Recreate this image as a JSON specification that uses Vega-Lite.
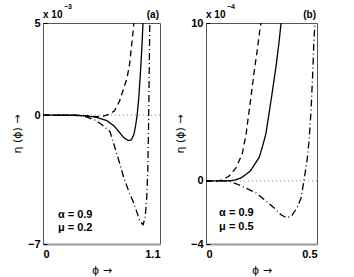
{
  "$schema": "https://vega.github.io/schema/vega-lite/v6.json",
  "padding": {"left": 10, "top": 2, "right": 0, "bottom": 0},
  "background": "white",
  "bounds": "flush",
  "spacing": 46,
  "config": {
    "view": {"stroke": "#555", "strokeWidth": 1},
    "font": "Liberation Sans",
    "axis": {
      "labelFont": "Liberation Sans", "labelFontWeight": "bold", "labelFontSize": 11, "labelColor": "black",
      "titleFont": "DejaVu Sans", "titleFontWeight": "normal", "titleFontSize": 11, "titleColor": "black",
      "domain": false, "grid": false, "tickColor": "black"
    },
    "axisX": {"domain": true, "domainColor": "#999", "domainWidth": 2, "titlePadding": 5, "ticks": false, "labelPadding": 4},
    "axisY": {"titlePadding": 5, "tickSize": -4, "labelPadding": 7},
    "text": {"font": "Liberation Sans", "fontWeight": "bold", "color": "black"}
  },
  "resolve": {"scale": {"x": "independent", "y": "independent", "strokeDash": "shared"}},
  "hconcat": [
    {
      "width": 117, "height": 221,
      "layer": [
        {
          "data": {"values": [{"z": 0}]},
          "mark": {"type": "rule", "color": "#888", "strokeDash": [1, 3], "strokeWidth": 1},
          "encoding": {"y": {"field": "z", "type": "quantitative", "scale": {"domain": [-7, 5]}}}
        },
        {
          "data": {"values": [
            {"s": "solid", "phi": 0, "eta": 0}, {"s": "solid", "phi": 0.3, "eta": -0.01}, {"s": "solid", "phi": 0.4, "eta": -0.04},
            {"s": "solid", "phi": 0.5, "eta": -0.12}, {"s": "solid", "phi": 0.6, "eta": -0.3}, {"s": "solid", "phi": 0.67, "eta": -0.6},
            {"s": "solid", "phi": 0.72, "eta": -0.95}, {"s": "solid", "phi": 0.76, "eta": -1.22}, {"s": "solid", "phi": 0.8, "eta": -1.38},
            {"s": "solid", "phi": 0.83, "eta": -1.35}, {"s": "solid", "phi": 0.855, "eta": -1.05}, {"s": "solid", "phi": 0.87, "eta": -0.6},
            {"s": "solid", "phi": 0.885, "eta": 0}, {"s": "solid", "phi": 0.9, "eta": 0.9}, {"s": "solid", "phi": 0.915, "eta": 2.2},
            {"s": "solid", "phi": 0.93, "eta": 3.7}, {"s": "solid", "phi": 0.94, "eta": 5}, {"s": "solid", "phi": 0.95, "eta": 6.5},
            {"s": "dashed", "phi": 0, "eta": 0}, {"s": "dashed", "phi": 0.3, "eta": -0.01}, {"s": "dashed", "phi": 0.4, "eta": -0.03},
            {"s": "dashed", "phi": 0.5, "eta": -0.08}, {"s": "dashed", "phi": 0.57, "eta": -0.06}, {"s": "dashed", "phi": 0.62, "eta": 0.05},
            {"s": "dashed", "phi": 0.67, "eta": 0.22}, {"s": "dashed", "phi": 0.72, "eta": 0.76}, {"s": "dashed", "phi": 0.76, "eta": 1.47},
            {"s": "dashed", "phi": 0.79, "eta": 2.0}, {"s": "dashed", "phi": 0.815, "eta": 2.8}, {"s": "dashed", "phi": 0.835, "eta": 3.9},
            {"s": "dashed", "phi": 0.855, "eta": 5.0}, {"s": "dashed", "phi": 0.865, "eta": 6.0},
            {"s": "dashdot", "phi": 0, "eta": 0}, {"s": "dashdot", "phi": 0.3, "eta": -0.02}, {"s": "dashdot", "phi": 0.4, "eta": -0.08},
            {"s": "dashdot", "phi": 0.5, "eta": -0.3}, {"s": "dashdot", "phi": 0.56, "eta": -0.55}, {"s": "dashdot", "phi": 0.63, "eta": -0.9},
            {"s": "dashdot", "phi": 0.667, "eta": -1.6}, {"s": "dashdot", "phi": 0.72, "eta": -2.6}, {"s": "dashdot", "phi": 0.76, "eta": -3.4},
            {"s": "dashdot", "phi": 0.81, "eta": -4.2}, {"s": "dashdot", "phi": 0.855, "eta": -4.8}, {"s": "dashdot", "phi": 0.91, "eta": -5.75},
            {"s": "dashdot", "phi": 0.94, "eta": -5.95}, {"s": "dashdot", "phi": 0.96, "eta": -5.6}, {"s": "dashdot", "phi": 0.975, "eta": -4.5},
            {"s": "dashdot", "phi": 0.985, "eta": -3.0}, {"s": "dashdot", "phi": 0.99, "eta": -1.5}, {"s": "dashdot", "phi": 0.995, "eta": 0.5},
            {"s": "dashdot", "phi": 1.0, "eta": 3.0}, {"s": "dashdot", "phi": 1.005, "eta": 5.5}
          ]},
          "mark": {"type": "line", "clip": true, "color": "black", "strokeWidth": 1.3},
          "encoding": {
            "x": {"field": "phi", "type": "quantitative", "scale": {"domain": [0, 1.1], "nice": false},
                  "axis": {"values": [0, 1.1], "format": ".1~f", "title": "\u03d5   \u2192"}},
            "y": {"field": "eta", "type": "quantitative", "scale": {"domain": [-7, 5], "nice": false},
                  "axis": {"values": [-7, 0, 5], "title": "\u03b7 (\u03d5)   \u2192"}},
            "strokeDash": {"field": "s", "type": "nominal", "legend": null,
                           "scale": {"domain": ["solid", "dashed", "dashdot"], "range": [[1, 0], [6, 4], [7, 3, 1, 3]]}}
          }
        },
        {
          "data": {"values": [{"x": 0.14, "y": -5.4, "t": "\u03b1 = 0.9"}, {"x": 0.14, "y": -6.15, "t": "\u03bc = 0.2"}]},
          "mark": {"type": "text", "align": "left", "baseline": "middle", "fontSize": 11},
          "encoding": {"x": {"field": "x", "type": "quantitative"}, "y": {"field": "y", "type": "quantitative"}, "text": {"field": "t"}}
        },
        {
          "data": {"values": [{"x": 0, "y": 5, "t": "x 10"}]},
          "mark": {"type": "text", "align": "left", "baseline": "alphabetic", "fontSize": 10, "dy": -5},
          "encoding": {"x": {"field": "x", "type": "quantitative"}, "y": {"field": "y", "type": "quantitative"}, "text": {"field": "t"}}
        },
        {
          "data": {"values": [{"x": 0, "y": 5, "t": "\u22123"}]},
          "mark": {"type": "text", "align": "left", "baseline": "alphabetic", "fontSize": 7, "dx": 21, "dy": -14},
          "encoding": {"x": {"field": "x", "type": "quantitative"}, "y": {"field": "y", "type": "quantitative"}, "text": {"field": "t"}}
        },
        {
          "data": {"values": [{"x": 1.1, "y": 5, "t": "(a)"}]},
          "mark": {"type": "text", "align": "right", "baseline": "alphabetic", "fontSize": 10, "dy": -5, "dx": -1},
          "encoding": {"x": {"field": "x", "type": "quantitative"}, "y": {"field": "y", "type": "quantitative"}, "text": {"field": "t"}}
        }
      ]
    },
    {
      "width": 111, "height": 221,
      "layer": [
        {
          "data": {"values": [{"z": 0}]},
          "mark": {"type": "rule", "color": "#888", "strokeDash": [1, 3], "strokeWidth": 1},
          "encoding": {"y": {"field": "z", "type": "quantitative", "scale": {"domain": [-4, 10]}}}
        },
        {
          "data": {"values": [
            {"s": "solid", "phi": 0, "eta": 0}, {"s": "solid", "phi": 0.1, "eta": 0}, {"s": "solid", "phi": 0.13, "eta": 0.05},
            {"s": "solid", "phi": 0.16, "eta": 0.2}, {"s": "solid", "phi": 0.2, "eta": 0.63}, {"s": "solid", "phi": 0.24, "eta": 1.5},
            {"s": "solid", "phi": 0.255, "eta": 2.2}, {"s": "solid", "phi": 0.27, "eta": 3.0}, {"s": "solid", "phi": 0.293, "eta": 5.1},
            {"s": "solid", "phi": 0.315, "eta": 7.2}, {"s": "solid", "phi": 0.33, "eta": 8.9}, {"s": "solid", "phi": 0.338, "eta": 10},
            {"s": "solid", "phi": 0.342, "eta": 10.5},
            {"s": "dashed", "phi": 0, "eta": 0}, {"s": "dashed", "phi": 0.06, "eta": 0}, {"s": "dashed", "phi": 0.08, "eta": 0.1},
            {"s": "dashed", "phi": 0.104, "eta": 0.3}, {"s": "dashed", "phi": 0.135, "eta": 0.82}, {"s": "dashed", "phi": 0.163, "eta": 1.7},
            {"s": "dashed", "phi": 0.18, "eta": 2.9}, {"s": "dashed", "phi": 0.194, "eta": 4.4}, {"s": "dashed", "phi": 0.216, "eta": 6.8},
            {"s": "dashed", "phi": 0.23, "eta": 8.2}, {"s": "dashed", "phi": 0.243, "eta": 9.6}, {"s": "dashed", "phi": 0.248, "eta": 10},
            {"s": "dashed", "phi": 0.252, "eta": 10.6},
            {"s": "dashdot", "phi": 0, "eta": 0}, {"s": "dashdot", "phi": 0.1, "eta": 0}, {"s": "dashdot", "phi": 0.14, "eta": -0.2},
            {"s": "dashdot", "phi": 0.23, "eta": -0.8}, {"s": "dashdot", "phi": 0.306, "eta": -1.7}, {"s": "dashdot", "phi": 0.338, "eta": -2.15},
            {"s": "dashdot", "phi": 0.365, "eta": -2.35}, {"s": "dashdot", "phi": 0.387, "eta": -2.2}, {"s": "dashdot", "phi": 0.41, "eta": -1.7},
            {"s": "dashdot", "phi": 0.428, "eta": -1.1}, {"s": "dashdot", "phi": 0.441, "eta": 0}, {"s": "dashdot", "phi": 0.455, "eta": 1.27},
            {"s": "dashdot", "phi": 0.464, "eta": 2.5}, {"s": "dashdot", "phi": 0.473, "eta": 4.4}, {"s": "dashdot", "phi": 0.482, "eta": 7.2},
            {"s": "dashdot", "phi": 0.486, "eta": 8.9}, {"s": "dashdot", "phi": 0.491, "eta": 10}, {"s": "dashdot", "phi": 0.494, "eta": 10.6}
          ]},
          "mark": {"type": "line", "clip": true, "color": "black", "strokeWidth": 1.3},
          "encoding": {
            "x": {"field": "phi", "type": "quantitative", "scale": {"domain": [0, 0.5], "nice": false},
                  "axis": {"values": [0, 0.5], "format": ".1~f", "title": "\u03d5   \u2192"}},
            "y": {"field": "eta", "type": "quantitative", "scale": {"domain": [-4, 10], "nice": false},
                  "axis": {"values": [-4, 0, 10], "title": "\u03b7 (\u03d5)   \u2192"}},
            "strokeDash": {"field": "s", "type": "nominal", "legend": null,
                           "scale": {"domain": ["solid", "dashed", "dashdot"], "range": [[1, 0], [6, 4], [7, 3, 1, 3]]}}
          }
        },
        {
          "data": {"values": [{"x": 0.059, "y": -2.03, "t": "\u03b1 = 0.9"}, {"x": 0.059, "y": -2.9, "t": "\u03bc = 0.5"}]},
          "mark": {"type": "text", "align": "left", "baseline": "middle", "fontSize": 11},
          "encoding": {"x": {"field": "x", "type": "quantitative"}, "y": {"field": "y", "type": "quantitative"}, "text": {"field": "t"}}
        },
        {
          "data": {"values": [{"x": 0, "y": 10, "t": "x 10"}]},
          "mark": {"type": "text", "align": "left", "baseline": "alphabetic", "fontSize": 10, "dy": -5},
          "encoding": {"x": {"field": "x", "type": "quantitative"}, "y": {"field": "y", "type": "quantitative"}, "text": {"field": "t"}}
        },
        {
          "data": {"values": [{"x": 0, "y": 10, "t": "\u22124"}]},
          "mark": {"type": "text", "align": "left", "baseline": "alphabetic", "fontSize": 7, "dx": 21, "dy": -14},
          "encoding": {"x": {"field": "x", "type": "quantitative"}, "y": {"field": "y", "type": "quantitative"}, "text": {"field": "t"}}
        },
        {
          "data": {"values": [{"x": 0.5, "y": 10, "t": "(b)"}]},
          "mark": {"type": "text", "align": "right", "baseline": "alphabetic", "fontSize": 10, "dy": -5, "dx": -1},
          "encoding": {"x": {"field": "x", "type": "quantitative"}, "y": {"field": "y", "type": "quantitative"}, "text": {"field": "t"}}
        }
      ]
    }
  ]
}
